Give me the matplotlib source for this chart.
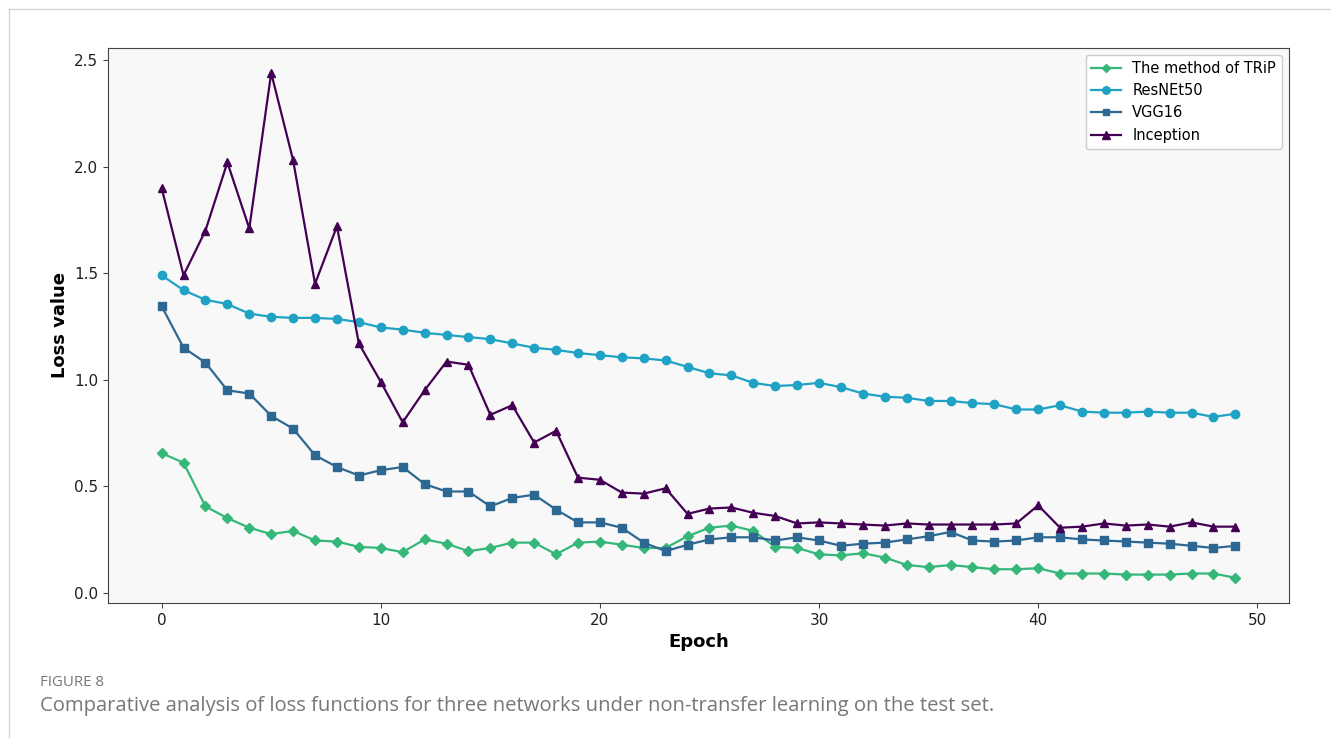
import matplotlib
matplotlib.use("Agg")
import matplotlib.pyplot as plt
from matplotlib.lines import Line2D

# loss values, epochs 0..49
epochs = list(range(50))

trip = [0.655, 0.61, 0.405, 0.35, 0.305, 0.275, 0.29, 0.245, 0.24, 0.215,
        0.21, 0.19, 0.25, 0.23, 0.195, 0.21, 0.235, 0.235, 0.18, 0.235,
        0.24, 0.225, 0.21, 0.21, 0.265, 0.305, 0.315, 0.29, 0.215, 0.21,
        0.18, 0.175, 0.185, 0.165, 0.13, 0.12, 0.13, 0.12, 0.11, 0.11,
        0.115, 0.09, 0.09, 0.09, 0.085, 0.085, 0.085, 0.09, 0.09, 0.07]

resnet = [1.49, 1.42, 1.375, 1.355, 1.31, 1.295, 1.29, 1.29, 1.285, 1.27,
          1.245, 1.235, 1.22, 1.21, 1.20, 1.19, 1.17, 1.15, 1.14, 1.125,
          1.115, 1.105, 1.10, 1.09, 1.06, 1.03, 1.02, 0.985, 0.97, 0.975,
          0.985, 0.965, 0.935, 0.92, 0.915, 0.90, 0.90, 0.89, 0.885, 0.86,
          0.86, 0.88, 0.85, 0.845, 0.845, 0.85, 0.845, 0.845, 0.825, 0.84]

vgg = [1.345, 1.15, 1.08, 0.95, 0.935, 0.83, 0.77, 0.645, 0.59, 0.55,
       0.575, 0.59, 0.51, 0.475, 0.475, 0.405, 0.445, 0.46, 0.39, 0.33,
       0.33, 0.305, 0.235, 0.195, 0.225, 0.25, 0.26, 0.26, 0.245, 0.26,
       0.245, 0.22, 0.23, 0.235, 0.25, 0.265, 0.285, 0.245, 0.24, 0.245,
       0.26, 0.26, 0.25, 0.245, 0.24, 0.235, 0.23, 0.22, 0.21, 0.22]

inception = [1.90, 1.49, 1.70, 2.02, 1.71, 2.44, 2.03, 1.45, 1.72, 1.17,
             0.99, 0.80, 0.95, 1.085, 1.07, 0.835, 0.88, 0.705, 0.76, 0.54,
             0.53, 0.47, 0.465, 0.49, 0.37, 0.395, 0.40, 0.375, 0.36, 0.325,
             0.33, 0.325, 0.32, 0.315, 0.325, 0.32, 0.32, 0.32, 0.32, 0.325,
             0.41, 0.305, 0.31, 0.325, 0.315, 0.32, 0.31, 0.33, 0.31, 0.31]

fig = plt.figure(figsize=(13.31, 7.38), dpi=100)
ax = fig.add_axes([0.0811, 0.1829, 0.8874, 0.7525])
ax.set_facecolor("#f8f8f8")

ax.plot(epochs, trip, marker="D", color="#35b779", lw=1.6, ms=5, label="The method of TRiP")
ax.plot(epochs, resnet, marker="o", color="#1fa2c4", lw=1.6, ms=6, label="ResNEt50")
ax.plot(epochs, vgg, marker="s", color="#2c6891", lw=1.6, ms=5.5, label="VGG16")
ax.plot(epochs, inception, marker="^", color="#440154", lw=1.6, ms=6, label="Inception")

ax.set_xlabel("Epoch", fontsize=13, fontweight="bold")
ax.set_ylabel("Loss value", fontsize=13, fontweight="bold")
ax.tick_params(labelsize=11, color="#444444", labelcolor="#222222")
for s in ax.spines.values():
    s.set_color("#444444")

leg = ax.legend(loc="upper right", fontsize=10.5, framealpha=1, markerscale=0.9)
leg.get_frame().set_edgecolor("#cccccc")

# page frame and caption
fig.add_artist(Line2D([9 / 1331, 9 / 1331], [0, 1 - 9 / 738], color="#d4d4d4", lw=1))
fig.add_artist(Line2D([9 / 1331, 1], [1 - 9 / 738, 1 - 9 / 738], color="#d4d4d4", lw=1))
fig.text(40 / 1331, 1 - 683 / 738, "FIGURE 8", fontsize=10.8, color="#777777",
         family="Open Sans", va="center")
fig.text(40 / 1331, 1 - 706 / 738,
         "Comparative analysis of loss functions for three networks under non-transfer learning on the test set.",
         fontsize=14.6, color="#777777", family="Open Sans", va="center")

fig.savefig("out.png", dpi=100)
